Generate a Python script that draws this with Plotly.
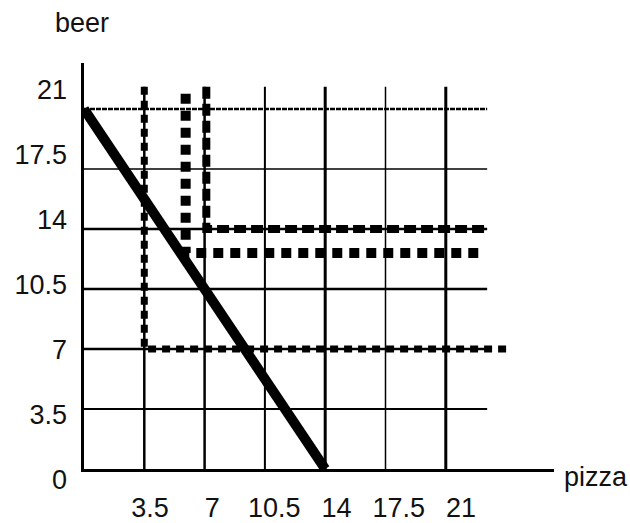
import plotly.graph_objects as go

# ---- data ----
grid_vals = [3.5, 7, 10.5, 14, 17.5, 21]
x_tick_vals = [3.5, 7, 10.5, 14, 17.5, 21]
x_tick_text = ["3.5", "7", "10.5", "14", "17.5", "21"]
y_tick_vals = [0, 3.5, 7, 10.5, 14, 17.5, 21]
y_tick_text = ["0", "3.5", "7", "10.5", "14", "17.5", "21"]

budget_pizza = [0, 14]
budget_beer = [21, 0]

ic1_pizza = [3.5, 3.5, 24.8]
ic1_beer = [22.3, 7, 7]
ic2_pizza = [5.9, 5.9, 22.9]
ic2_beer = [21.9, 12.6, 12.6]
ic3_pizza = [7.1, 7.1, 23.3]
ic3_beer = [22.3, 14, 14]

H_END = 23.4
V_TOP = 22.3
FONT = "Liberation Sans, Arial, sans-serif"

W, H = 630, 523
def fx(px):
    return px / W
def fy(py):
    return 1 - py / H

fig = go.Figure()

# grid lines (horizontal)
h_width = {3.5: 2, 7: 2.5, 10.5: 2.5, 14: 2.5, 17.5: 1.5, 21: 2.5}
for v in grid_vals:
    fig.add_trace(go.Scatter(
        x=[0 if v != 21 else -0.35, H_END], y=[v, v], mode="lines",
        line=dict(color="black", width=h_width[v], dash="5px,1px" if v == 21 else "solid"),
        hoverinfo="skip", showlegend=False))
# grid lines (vertical)
v_width = {3.5: 2.5, 7: 2.5, 10.5: 2, 14: 3, 17.5: 1.5, 21: 3}
for v in grid_vals:
    fig.add_trace(go.Scatter(
        x=[v, v], y=[0, V_TOP], mode="lines",
        line=dict(color="black", width=v_width[v], dash="solid"),
        hoverinfo="skip", showlegend=False))

# indifference curves
fig.add_trace(go.Scatter(x=ic1_pizza, y=ic1_beer, mode="lines",
                         line=dict(color="black", width=7, dash="8px,6px"),
                         hoverinfo="skip", showlegend=False))
fig.add_trace(go.Scatter(x=ic2_pizza, y=ic2_beer, mode="lines",
                         line=dict(color="black", width=10, dash="10px,7px"),
                         hoverinfo="skip", showlegend=False))
fig.add_trace(go.Scatter(x=ic3_pizza, y=ic3_beer, mode="lines",
                         line=dict(color="black", width=8, dash="12px,5px"),
                         hoverinfo="skip", showlegend=False))

# budget line
fig.add_trace(go.Scatter(x=budget_pizza, y=budget_beer, mode="lines",
                         line=dict(color="black", width=10),
                         hoverinfo="skip", showlegend=False))

# invisible traces to activate label axes
fig.add_trace(go.Scatter(x=[1], y=[1], xaxis="x2", yaxis="y", mode="markers",
                         marker=dict(opacity=0), hoverinfo="skip", showlegend=False))
fig.add_trace(go.Scatter(x=[1], y=[1], xaxis="x", yaxis="y2", mode="markers",
                         marker=dict(opacity=0), hoverinfo="skip", showlegend=False))

fig.update_layout(
    width=W, height=H,
    margin=dict(l=0, r=0, t=0, b=0),
    paper_bgcolor="white", plot_bgcolor="rgba(0,0,0,0)",
    font=dict(family=FONT, size=27, color="#111111"),
    xaxis=dict(domain=[fx(84), fx(554)], range=[0, 27.28], showgrid=False,
               zeroline=False, showticklabels=False, ticks="",
               showline=True, linecolor="black", linewidth=3, anchor="y",
               automargin=False),
    yaxis=dict(domain=[fy(469), fy(63)], range=[0, 23.69], showgrid=False,
               zeroline=False, showticklabels=False, ticks="",
               showline=True, linecolor="black", linewidth=3, anchor="x",
               automargin=False),
    xaxis2=dict(overlaying="x", anchor="y", side="bottom",
                range=[-0.214, 26.24], tickvals=x_tick_vals, ticktext=x_tick_text,
                showgrid=False, zeroline=False, showline=False, ticks="",
                ticklabelstandoff=20, automargin=False),
    yaxis2=dict(domain=[fy(490), fy(63)], anchor="free", position=fx(84),
                side="left", range=[-0.566, 22.45],
                tickvals=y_tick_vals, ticktext=y_tick_text,
                showgrid=False, zeroline=False, showline=False, ticks="",
                ticklabelstandoff=17, automargin=False),
    annotations=[
        dict(text="beer", xref="paper", yref="paper", x=fx(82), y=fy(23),
             xanchor="center", yanchor="middle", showarrow=False),
        dict(text="pizza", xref="paper", yref="paper", x=fx(562), y=fy(477),
             xanchor="left", yanchor="middle", showarrow=False),
    ],
)

fig.write_html("out.html", post_script="document.body.style.margin='0';",
               config={"displayModeBar": False})
